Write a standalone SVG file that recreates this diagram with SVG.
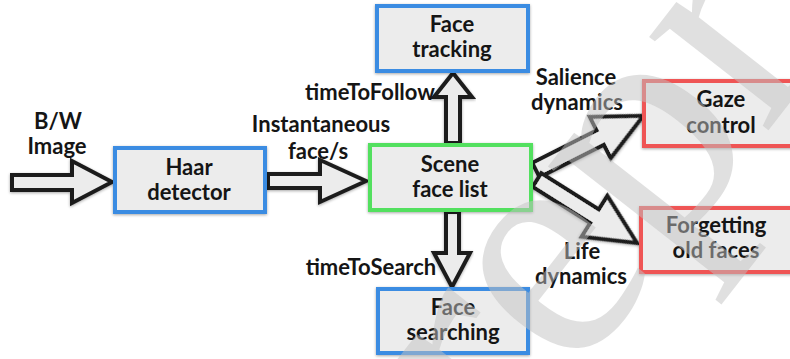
<svg xmlns="http://www.w3.org/2000/svg" width="790" height="359" viewBox="0 0 790 359">
<defs>
<style>
.box{fill:#ececec;stroke-width:4}
.blue{stroke:#3a8ce2}
.green{stroke:#52e05e}
.red{stroke:#ef5454}
text{font-family:Lato,"Open Sans","Liberation Sans",sans-serif;font-weight:bold;font-size:22px;fill:#151515;text-anchor:middle}
.arrow{fill:#ececec;stroke:#1e1e1e;stroke-width:4;stroke-linejoin:miter}
.wm{font-family:"Liberation Serif","DejaVu Serif",serif;font-weight:normal;font-size:330px;fill:#c2c2c2;fill-opacity:0.5;text-anchor:start}
</style>
<filter id="sh" x="-10%" y="-10%" width="120%" height="130%">
<feGaussianBlur in="SourceAlpha" stdDeviation="1.5"/>
<feOffset dx="0" dy="1" result="b"/>
<feComponentTransfer><feFuncA type="linear" slope="0.35"/></feComponentTransfer>
<feMerge><feMergeNode/><feMergeNode in="SourceGraphic"/></feMerge>
</filter>
</defs>
<rect width="790" height="359" fill="#ffffff"/>

<g id="connectors">
<polygon class="arrow" filter="url(#sh)" points="12,175 72,175 72,161 112,182 72,203 72,190 12,190"/>
<polygon class="arrow" filter="url(#sh)" points="268,174 320,174 320,160 366,181 320,202 320,188 268,188"/>
<polygon class="arrow" filter="url(#sh)" points="446,143 446,97 434,97 453,73 472,97 460,97 460,143"/>
<polygon class="arrow" filter="url(#sh)" points="446,212 446,253 434,253 452,287 470,253 459,253 459,212"/>
<polygon class="arrow" filter="url(#sh)" transform="translate(536,170) rotate(-26.8)" points="0,-8 72,-8 72,-23 120,0 72,23 72,8 0,8"/>
<polygon class="arrow" filter="url(#sh)" transform="translate(537,180) rotate(32.2)" points="0,-8 68,-8 68,-24 118,0 68,24 68,8 0,8"/>
</g>

<g id="labels">
<text x="58" y="129">B/W</text>
<text x="57" y="154">Image</text>
<text x="321" y="132">Instantaneous</text>
<text x="318" y="159">face/s</text>
<text x="370" y="100">timeToFollow</text>
<text x="371" y="275">timeToSearch</text>
<text x="576" y="85">Salience</text>
<text x="577" y="110">dynamics</text>
<text x="582" y="259">Life</text>
<text x="581" y="284">dynamics</text>
</g>

<g id="haar">
<rect class="box blue" filter="url(#sh)" x="115" y="148" width="150" height="64"/>
<text x="189" y="175">Haar</text>
<text x="189" y="200">detector</text>
</g>
<g id="scene">
<rect class="box green" filter="url(#sh)" x="370" y="145" width="161" height="65"/>
<text x="450" y="172">Scene</text>
<text x="450" y="197">face list</text>
</g>
<g id="tracking">
<rect class="box blue" filter="url(#sh)" x="377" y="6" width="151" height="65"/>
<text x="452" y="32">Face</text>
<text x="452" y="57">tracking</text>
</g>
<g id="searching">
<rect class="box blue" filter="url(#sh)" x="378" y="289" width="150" height="64"/>
<text x="453" y="315">Face</text>
<text x="453" y="340">searching</text>
</g>
<g id="gaze">
<rect class="box red" filter="url(#sh)" x="644" y="81" width="150" height="65"/>
<text x="721" y="107">Gaze</text>
<text x="721" y="133">control</text>
</g>
<g id="forgetting">
<rect class="box red" filter="url(#sh)" x="641" y="208" width="152" height="64"/>
<text x="716" y="233">Forgetting</text>
<text x="716" y="258">old faces</text>
</g>

<text class="wm" transform="translate(392,612) rotate(-52)">Preprint</text>
</svg>
